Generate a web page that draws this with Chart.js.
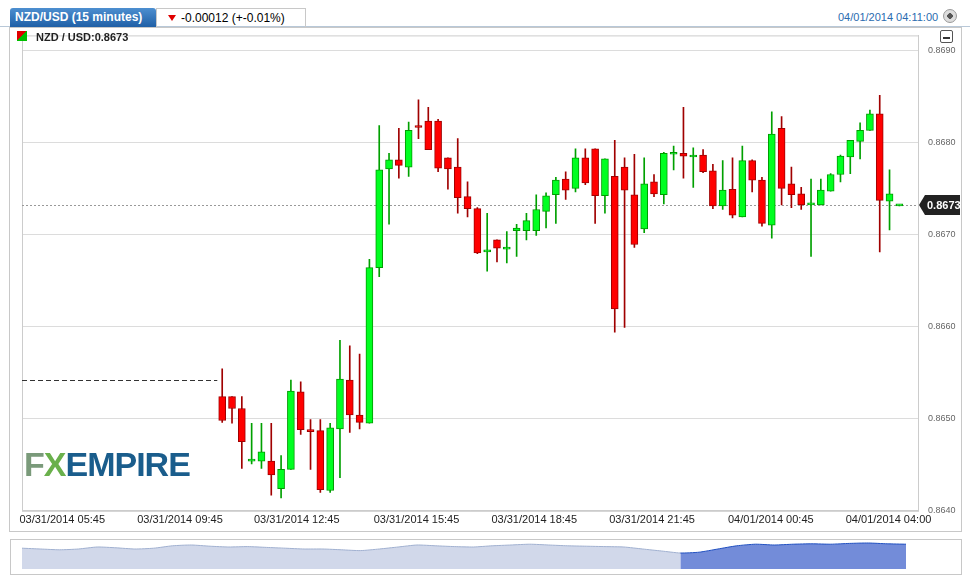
<!DOCTYPE html>
<html>
<head>
<meta charset="utf-8">
<script src="https://cdn.jsdelivr.net/npm/chart.js@4.4.1/dist/chart.umd.min.js"></script>
<style>
  body { margin: 0; background: #fff; font-family: Arial, "Liberation Sans", sans-serif; width: 970px; height: 581px; position: relative; overflow: hidden; }
  #frame { position: absolute; left: 9px; top: 27px; width: 951px; height: 503px; border: 1px solid #c8c8c8; }
  #topline { position: absolute; left: 0; top: 26px; width: 970px; border-top: 1px solid #b8c8d8; }
  #tab { position: absolute; left: 10px; top: 8px; width: 146px; height: 19px; background: linear-gradient(#4d8fd0, #1f5fa6); color: #fff; font-size: 12px; font-weight: bold; line-height: 19px; padding-left: 5px; border-radius: 3px 3px 0 0; box-sizing: border-box; }
  #chg { position: absolute; left: 156px; top: 8px; width: 150px; height: 19px; border: 1px solid #c8c8c8; border-bottom: none; font-size: 12px; line-height: 19px; padding-left: 12px; box-sizing: border-box; color: #000; }
  #chg:before { content: ""; position: absolute; left: 11px; top: 6px; border-left: 4px solid transparent; border-right: 4px solid transparent; border-top: 6px solid #e00000; }
  #chg span { padding-left: 12px; }
  #date { position: absolute; left: 838px; top: 11px; font-size: 11px; color: #2a6bb0; }
  #circ { position: absolute; left: 943px; top: 9px; width: 12px; height: 12px; border-radius: 50%; background: radial-gradient(#555 30%, #ddd 35%); border: 1px solid #999; }
  #sym { position: absolute; left: 36px; top: 31px; font-size: 11px; font-weight: bold; color: #222; }
  #symicon { position: absolute; left: 17px; top: 31px; width: 10px; height: 10px; background: linear-gradient(135deg, #e00000 50%, #00c000 50%); }
  #minbtn { position: absolute; left: 940px; top: 30px; width: 11px; height: 11px; border: 1px solid #555; border-radius: 2px; }
  #minbtn:after { content: ""; position: absolute; left: 2px; top: 6px; width: 7px; height: 2px; background: #333; }
  #logo { position: absolute; left: 24px; top: 445px; font-size: 34px; font-weight: bold; letter-spacing: -1px; color: #1a5d8c; }
  #logo .fx { color: #7a9a7a; } #logo .x { color: #6ab04c; }
  #main { position: absolute; left: 10px; top: 20px; width: 960px; height: 510px; }
  #navbox { position: absolute; left: 10px; top: 539px; width: 950px; height: 34px; border: 1px solid #c8c8c8; }
  #nav { position: absolute; left: 22px; top: 541px; width: 884px; height: 28px; }
</style>
</head>
<body>
<div id="topline"></div>
<div id="tab">NZD/USD (15 minutes)</div>
<div id="chg"><span>-0.00012 (+-0.01%)</span></div>
<div id="date">04/01/2014 04:11:00</div>
<div id="circ"></div>
<div id="frame"></div>
<div id="main"><canvas id="chart"></canvas></div>
<div id="symicon"></div>
<div id="sym">NZD / USD:0.8673</div>
<div id="minbtn"></div>
<div id="logo"><span class="fx">F<span class="x">X</span></span>EMPIRE</div>
<div id="navbox"></div>
<div id="nav"><canvas id="navChart"></canvas></div>
<script>
const opens = [0.86524,0.86524,0.86511,0.86454,0.86454,0.86454,0.86424,0.86445,0.86529,0.86488,
  0.86487,0.86422,0.86489,0.86542,0.86504,0.86495,0.86664,0.86771,0.86781,0.86773,
  0.86817,0.86823,0.86823,0.86783,0.86773,0.86741,0.86728,0.86681,0.86694,0.86684,
  0.86704,0.86704,0.86704,0.86725,0.86743,0.86760,0.86750,0.86783,0.86793,0.86742,
  0.86763,0.86773,0.86743,0.86706,0.86757,0.86743,0.86787,0.86788,0.86784,0.86786,
  0.86769,0.86731,0.86749,0.86719,0.86780,0.86759,0.86710,0.86815,0.86755,0.86744,
  0.86732,0.86732,0.86747,0.86765,0.86784,0.86801,0.86813,0.86831,0.86736,0.86731];
const highs = [0.86554,0.86524,0.86524,0.86495,0.86495,0.86495,0.86460,0.86542,0.86540,0.86499,
  0.86499,0.86495,0.86585,0.86579,0.86570,0.86673,0.86818,0.86788,0.86815,0.86822,
  0.86846,0.86838,0.86825,0.86783,0.86804,0.86757,0.86729,0.86723,0.86694,0.86703,
  0.86711,0.86723,0.86743,0.86745,0.86762,0.86768,0.86793,0.86793,0.86793,0.86782,
  0.86802,0.86783,0.86787,0.86783,0.86765,0.86789,0.86796,0.86838,0.86794,0.86792,
  0.86776,0.86780,0.86783,0.86796,0.86781,0.86762,0.86833,0.86828,0.86773,0.86751,
  0.86760,0.86760,0.86766,0.86786,0.86802,0.86821,0.86835,0.86851,0.86770,0.86732];
const lows = [0.86496,0.86495,0.86446,0.86451,0.86446,0.86417,0.86414,0.86445,0.86483,0.86445,
  0.86420,0.86420,0.86436,0.86485,0.86489,0.86495,0.86654,0.86711,0.86761,0.86763,
  0.86804,0.86792,0.86768,0.86749,0.86723,0.86719,0.86679,0.86660,0.86670,0.86669,
  0.86676,0.86694,0.86699,0.86707,0.86712,0.86738,0.86746,0.86754,0.86712,0.86723,
  0.86594,0.86599,0.86686,0.86702,0.86741,0.86733,0.86770,0.86761,0.86751,0.86767,
  0.86728,0.86727,0.86718,0.86719,0.86746,0.86709,0.86696,0.86732,0.86729,0.86727,
  0.86676,0.86732,0.86747,0.86757,0.86766,0.86782,0.86813,0.86681,0.86705,0.86731];
const closes = [0.86498,0.86511,0.86475,0.86455,0.86464,0.86439,0.86445,0.86530,0.86488,0.86486,
  0.86423,0.86490,0.86543,0.86504,0.86496,0.86664,0.86770,0.86781,0.86775,0.86813,
  0.86816,0.86792,0.86772,0.86771,0.86740,0.86728,0.86680,0.86682,0.86685,0.86685,
  0.86707,0.86715,0.86727,0.86742,0.86759,0.86748,0.86783,0.86756,0.86742,0.86782,
  0.86619,0.86748,0.86689,0.86755,0.86744,0.86788,0.86788,0.86785,0.86786,0.86768,
  0.86731,0.86748,0.86721,0.86780,0.86759,0.86712,0.86809,0.86750,0.86743,0.86732,
  0.86733,0.86748,0.86765,0.86785,0.86802,0.86813,0.86831,0.86737,0.86744,0.86732];
const prevClose = 0.86542;
const tickPositions = [-16.3, -4.3, 7.6, 19.8, 31.8, 43.8, 55.9, 67.9];
const tickLabels = ['03/31/2014 05:45','03/31/2014 09:45','03/31/2014 12:45','03/31/2014 15:45',
  '03/31/2014 18:45','03/31/2014 21:45','04/01/2014 00:45','04/01/2014 04:00'];
const navValues = [0.52,0.5,0.48,0.5,0.55,0.53,0.5,0.52,0.58,0.6,0.57,0.55,0.56,0.54,0.52,0.5,
  0.5,0.48,0.46,0.5,0.55,0.6,0.58,0.56,0.55,0.58,0.6,0.62,0.6,0.58,0.57,0.56,0.55,0.5,0.45,0.4,
  0.42,0.5,0.58,0.62,0.6,0.62,0.63,0.62,0.64,0.65,0.63,0.62];

const up = closes.map((c, i) => c >= opens[i]);
const bodies = closes.map((c, i) => ({ x: i, y: [Math.min(c, opens[i]), Math.max(c, opens[i])] }));
const wicks = closes.map((c, i) => ({ x: i, y: [lows[i], highs[i]] }));
const lastClose = closes[closes.length - 1];

const overlay = {
  id: 'overlay',
  beforeDatasetsDraw(chart) {
    const { ctx, chartArea: a, scales: { x, y } } = chart;
    ctx.save();
    ctx.strokeStyle = '#ccc';
    ctx.strokeRect(a.left + 0.5, a.top + 0.5, a.width, a.height);
    ctx.lineWidth = 1;
    ctx.strokeStyle = '#333';
    ctx.setLineDash([5, 3]);
    const py = Math.round(y.getPixelForValue(prevClose)) + 0.5;
    ctx.beginPath(); ctx.moveTo(a.left, py); ctx.lineTo(x.getPixelForValue(-0.5), py); ctx.stroke();
    ctx.strokeStyle = '#999';
    ctx.setLineDash([2, 2]);
    const ly = Math.round(y.getPixelForValue(lastClose)) + 0.5;
    ctx.beginPath(); ctx.moveTo(a.left, ly); ctx.lineTo(a.right, ly); ctx.stroke();
    ctx.restore();
  },
  afterDraw(chart) {
    const { ctx, chartArea: a, scales: { y } } = chart;
    const ly = y.getPixelForValue(lastClose);
    ctx.save();
    ctx.fillStyle = '#222';
    ctx.beginPath();
    ctx.moveTo(a.right + 1, ly);
    ctx.lineTo(a.right + 7, ly - 10);
    ctx.lineTo(a.right + 42, ly - 10);
    ctx.lineTo(a.right + 42, ly + 10);
    ctx.lineTo(a.right + 7, ly + 10);
    ctx.closePath(); ctx.fill();
    ctx.fillStyle = '#fff';
    ctx.font = 'bold 11px Arial';
    ctx.textBaseline = 'middle';
    ctx.fillText(lastClose.toFixed(4), a.right + 9, ly + 1);
    ctx.restore();
  }
};

new Chart(document.getElementById('chart'), {
  type: 'bar',
  data: {
    datasets: [
      {
        data: wicks,
        backgroundColor: up.map(u => u ? '#00a000' : '#a00000'),
        barThickness: 1,
        grouped: false,
        order: 2
      },
      {
        data: bodies,
        backgroundColor: up.map(u => u ? '#00ff21' : '#ff0000'),
        borderColor: up.map(u => u ? '#009a00' : '#a00000'),
        borderWidth: 1,
        borderSkipped: false,
        barThickness: 7,
        minBarLength: 2,
        grouped: false,
        order: 1
      }
    ]
  },
  options: {
    animation: false,
    responsive: true,
    maintainAspectRatio: false,
    layout: { padding: { left: 12, right: 0, top: 0, bottom: 0 } },
    plugins: { legend: { display: false }, tooltip: { enabled: false } },
    scales: {
      x: {
        type: 'linear',
        min: -20.4,
        max: 70.9,
        offset: false,
        afterBuildTicks: s => { s.ticks = tickPositions.map(v => ({ value: v })); },
        ticks: {
          autoSkip: false, maxRotation: 0,
          callback: (v, i) => tickLabels[i],
          color: '#222', font: { size: 11, family: 'Arial' }
        },
        grid: { display: false, drawTicks: false },
        border: { color: '#ccc' }
      },
      y: {
        position: 'right',
        min: 0.8640,
        max: 0.86916,
        afterBuildTicks: s => {
          s.ticks = [0.8640, 0.8650, 0.8660, 0.8670, 0.8680, 0.8690].map(v => ({ value: v }));
        },
        afterFit: s => { s.width = 52; },
        ticks: {
          callback: v => v.toFixed(4),
          color: '#666', font: { size: 9, family: 'Arial' }, padding: 10
        },
        grid: { color: '#dcdcdc', drawTicks: false },
        border: { color: '#ccc' }
      }
    }
  },
  plugins: [overlay]
});

new Chart(document.getElementById('navChart'), {
  type: 'line',
  data: {
    labels: navValues.map((v, i) => i),
    datasets: [{
      data: navValues,
      fill: true,
      backgroundColor: 'rgba(190,200,225,0.7)',
      borderColor: '#a0b0d0',
      borderWidth: 1,
      pointRadius: 0,
      tension: 0.2,
      segment: {
        borderColor: c => c.p0DataIndex >= 35 ? '#1f4fc0' : '#a0b0d0',
        backgroundColor: c => c.p0DataIndex >= 35 ? 'rgba(90,120,210,0.85)' : 'rgba(190,200,225,0.7)'
      }
    }]
  },
  options: {
    animation: false,
    responsive: true,
    maintainAspectRatio: false,
    plugins: { legend: { display: false }, tooltip: { enabled: false } },
    scales: {
      x: { display: false },
      y: { display: false, min: 0, max: 0.7 }
    }
  }
});
</script>
</body>
</html>
